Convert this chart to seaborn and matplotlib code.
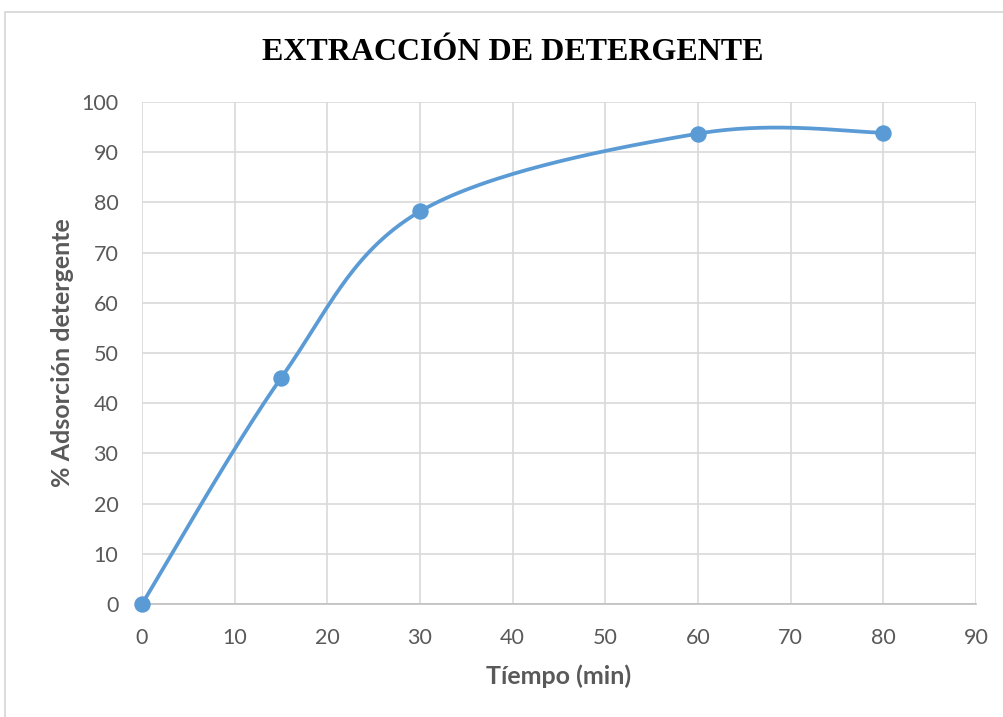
import numpy as np
import pandas as pd
import matplotlib
matplotlib.use("Agg")
import matplotlib.pyplot as plt
import seaborn as sns
from matplotlib.patches import Rectangle

# Data
tiempo = [0, 15, 30, 60, 80]
adsorcion = [0, 45, 78.2, 93.7, 93.9]
x_ticks = [0, 10, 20, 30, 40, 50, 60, 70, 80, 90]
y_ticks = [0, 10, 20, 30, 40, 50, 60, 70, 80, 90, 100]
title = "EXTRACCIÓN DE DETERGENTE"
xlabel = "Tíempo (min)"
ylabel = "% Adsorción detergente"

line_color = "#5B9BD5"
grid_color = "#D9D9D9"
text_color = "#595959"


def smooth_curve(xs, ys, n=60):
    """Excel-like smoothed line (Catmull-Rom Bezier) through the data points."""
    P = np.column_stack([xs, ys]).astype(float)
    Pext = np.vstack([P[0], P, P[-1]])
    t = np.linspace(0, 1, n)[:, None]
    out = []
    for i in range(1, len(Pext) - 2):
        p0, p1, p2, p3 = Pext[i - 1], Pext[i], Pext[i + 1], Pext[i + 2]
        c1 = p1 + (p2 - p0) / 6.0
        c2 = p2 - (p3 - p1) / 6.0
        seg = ((1 - t) ** 3) * p1 + 3 * ((1 - t) ** 2) * t * c1 + 3 * (1 - t) * t ** 2 * c2 + t ** 3 * p2
        out.append(seg if i == 1 else seg[1:])
    return np.vstack(out)


sns.set_style("white")
plt.rcParams["font.family"] = ["Lato", "DejaVu Sans"]

fig = plt.figure(figsize=(10.04, 7.17), dpi=100)
ax = fig.add_axes([142 / 1004, 1 - 604 / 717, 834 / 1004, 502 / 717])

# chart border
fig.patches.append(Rectangle((5 / 1004, -0.1), 1.2, 0.1 + (717 - 12) / 717,
                             transform=fig.transFigure, fill=False,
                             edgecolor="#D9D9D9", linewidth=1.3, zorder=0))

curve = smooth_curve(tiempo, adsorcion)
df_curve = pd.DataFrame({"x": curve[:, 0], "y": curve[:, 1]})
df_pts = pd.DataFrame({"x": tiempo, "y": adsorcion})

sns.lineplot(data=df_curve, x="x", y="y", ax=ax, color=line_color, linewidth=2.7,
             sort=False, estimator=None, zorder=3)
sns.scatterplot(data=df_pts, x="x", y="y", ax=ax, color=line_color, s=140,
                edgecolor=line_color, linewidth=0, zorder=4, clip_on=False)

ax.set_xlim(0, 90)
ax.set_ylim(0, 100)
ax.set_xticks(x_ticks)
ax.set_yticks(y_ticks)
ax.set_xticklabels([str(v) for v in x_ticks])
ax.set_yticklabels([str(v) for v in y_ticks])
ax.grid(True, color=grid_color, linewidth=1.2)
ax.set_axisbelow(True)
for s in ["top", "right", "left"]:
    ax.spines[s].set_visible(False)
ax.spines["bottom"].set_color("#BFBFBF")
ax.spines["bottom"].set_linewidth(1.2)
ax.tick_params(axis="both", length=0, labelsize=15.5, labelcolor=text_color)
ax.tick_params(axis="x", pad=17)
ax.tick_params(axis="y", pad=17)

ax.set_xlabel(xlabel, fontsize=18, fontweight="bold", color=text_color)
ax.set_ylabel(ylabel, fontsize=18, fontweight="bold", color=text_color)
ax.xaxis.set_label_coords(0.5, -0.12)
ax.yaxis.set_label_coords(-0.082, 0.5)

fig.text(513 / 1004, 1 - 52 / 717, title, ha="center", va="center",
         fontsize=23, fontweight="bold", family=["Liberation Serif"], color="black")

fig.savefig("out.png", dpi=100)
